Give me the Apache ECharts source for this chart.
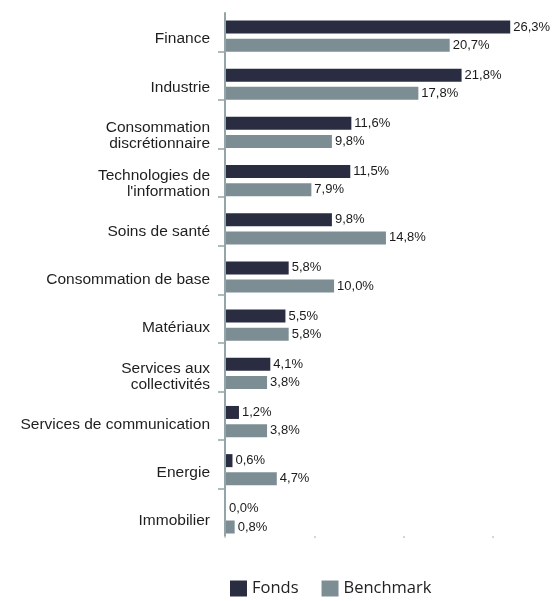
<!DOCTYPE html>
<html>
<head>
<meta charset="utf-8">
<script src="https://cdn.jsdelivr.net/npm/echarts@6/dist/echarts.min.js"></script>
<style>html,body{margin:0;padding:0;background:#fff;}#c{width:558px;height:601px;}</style>
</head>
<body>
<div id="c"></div>
<script>
var categories = ['Finance', 'Industrie', 'Consommation\ndiscrétionnaire', "Technologies de\nl'information", 'Soins de santé', 'Consommation de base', 'Matériaux', 'Services aux\ncollectivités', 'Services de communication', 'Energie', 'Immobilier'];
var fonds = [26.3, 21.8, 11.6, 11.5, 9.8, 5.8, 5.5, 4.1, 1.2, 0.6, 0.0];
var benchmark = [20.7, 17.8, 9.8, 7.9, 14.8, 10.0, 5.8, 3.8, 3.8, 4.7, 0.8];
var seriesNames = ['Fonds', 'Benchmark'];
var xMax = 24.8;

var axisColor = '#94a4a8';
function fmt(p) { return p.value.toFixed(1).replace('.', ',') + '%'; }

var chart = echarts.init(document.getElementById('c'));
chart.setOption({
  animation: false,
  textStyle: { fontFamily: 'Liberation Sans' },
  legend: {
    data: seriesNames,
    left: 225, top: 575,
    icon: 'rect', itemWidth: 17, itemHeight: 16, itemGap: 23,
    textStyle: { fontFamily: 'Open Sans', fontSize: 16.5, color: '#222' }
  },
  grid: [
    { left: 226, top: 12, width: 268, height: 530 },
    { left: 225, top: 27, width: 268, height: 486 },
    { left: 225, top: 13, width: 268, height: 523 },
    { left: 226, top: 15, width: 268, height: 530 }
  ],
  xAxis: [
    { gridIndex: 0, type: 'value', min: 0, max: xMax, show: false },
    { gridIndex: 1, type: 'value', min: 0, max: xMax, show: false },
    { gridIndex: 2, type: 'value', min: 0, max: xMax, interval: xMax / 3,
      axisLine: { show: false }, splitLine: { show: false }, axisLabel: { show: false },
      axisTick: { show: true, length: 2, lineStyle: { color: '#c8c8c8', width: 1.5 } } },
    { gridIndex: 3, type: 'value', min: 0, max: xMax, show: false }
  ],
  yAxis: [
    { gridIndex: 0, type: 'category', data: categories, inverse: true, show: false },
    { gridIndex: 1, type: 'category', data: categories.slice(0, 10), inverse: true,
      axisLine: { show: false }, axisLabel: { show: false },
      axisTick: { show: true, alignWithLabel: true, length: 7, lineStyle: { color: axisColor, width: 1.5 } } },
    { gridIndex: 2, type: 'category', data: categories, inverse: true,
      axisLine: { show: true, lineStyle: { color: axisColor, width: 2 } },
      axisTick: { show: false }, axisLabel: { show: false } },
    { gridIndex: 3, type: 'category', data: categories, inverse: true,
      axisLine: { show: false }, axisTick: { show: false },
      axisLabel: { margin: 16, fontSize: 15.5, lineHeight: 16, color: '#1e1e1e', fontFamily: 'Liberation Sans' } }
  ],
  series: [
    { name: seriesNames[0], type: 'bar', xAxisIndex: 0, yAxisIndex: 0, data: fonds,
      barWidth: 13, barGap: '40%', clip: false,
      itemStyle: { color: '#2a2d41' },
      label: { show: true, position: 'right', distance: 3, formatter: fmt, fontSize: 13, color: '#1a1a1a' } },
    { name: seriesNames[1], type: 'bar', xAxisIndex: 0, yAxisIndex: 0, data: benchmark,
      barWidth: 13, barGap: '40%', clip: false,
      itemStyle: { color: '#7c8e93' },
      label: { show: true, position: 'right', distance: 3, formatter: fmt, fontSize: 13, color: '#1a1a1a' } }
  ]
});
</script>
</body>
</html>
